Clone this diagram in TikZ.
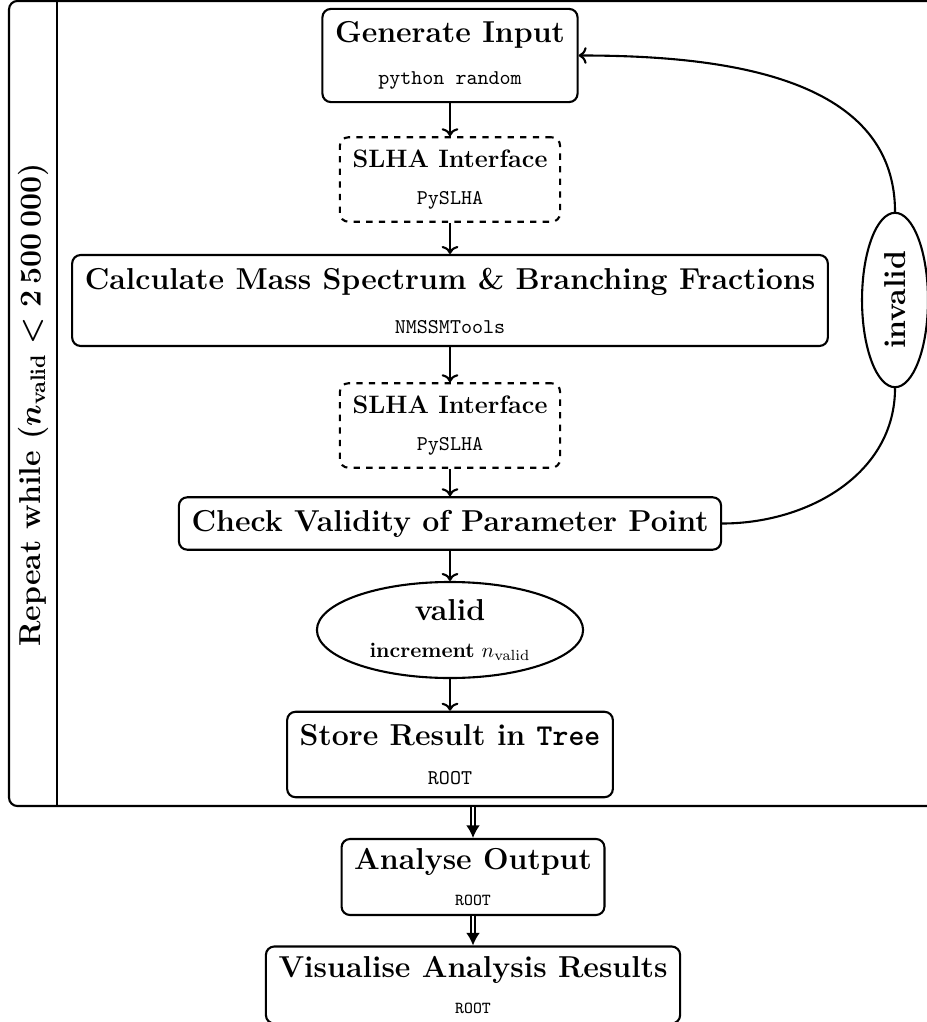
\documentclass[tikz,border=0pt]{standalone}
\usepackage{amsmath}
\usetikzlibrary{shapes, positioning, arrows.meta}
\tikzstyle{block}=[draw, line width=1pt, rounded corners, align=center, inner xsep=6pt, inner ysep=6pt]
\tikzstyle{blockd}=[block, dashed]
\tikzstyle{blocks}=[block, inner ysep=4.5pt]
\tikzstyle{decision}=[draw, line width=1pt, ellipse, align=center, inner sep=0pt]
\tikzstyle{flow}=[line width=1pt, ->]
\tikzstyle{flowd}=[line width=0.7pt, double, double distance=1.4pt, -{Latex[length=6pt, width=6.5pt]}]

\begin{document}
\begin{tikzpicture}[x=0.476pt, y=-0.476pt]
\useasboundingbox (0,0) rectangle (926,1022);
% loop frame
\node [draw, line width=1pt, rounded corners, minimum width=441.7pt, minimum height=383.2pt] (loop) at (473,403.5){};
\draw [line width=1pt] ([xshift=23.3pt]loop.north west) -- ([xshift=23.3pt]loop.south west);
\node [rotate=90] (rep) at (33,405){\Large\bfseries Repeat while {\boldmath$(n_\mathrm{valid} < 2\,500\,000)$}};
% chain inside the loop
\node [block] (gen) at (450,55.5){{\Large\bfseries Generate Input}\\[8pt]\texttt{python random}};
\node [blockd] (slha1) at (450,179.5){{\large\bfseries SLHA Interface}\\[5.5pt]\texttt{PySLHA}};
\node [block] (calc) at (450,300.5){{\Large\bfseries Calculate Mass Spectrum \& Branching Fractions}\\[9pt]\texttt{NMSSMTools}};
\node [blockd] (slha2) at (450,425.5){{\large\bfseries SLHA Interface}\\[5.5pt]\texttt{PySLHA}};
\node [block] (check) at (450,523.5){\Large\bfseries Check Validity of Parameter Point};
\node [decision, minimum width=126.7pt, minimum height=45.7pt] (valid) at (450,630){{\Large\bfseries valid}\\[5.5pt]\textbf{increment} $n_\mathrm{valid}$};
\node [block] (store) at (450,754.5){{\Large\bfseries Store Result in \texttt{Tree}}\\[6.5pt]\texttt{ROOT}};
\node [decision, rotate=90, minimum width=83pt, minimum height=31.4pt] (inv) at (895,300){\Large\bfseries invalid};
\draw [flow] (gen) -- (slha1);
\draw [flow] (slha1) -- (calc);
\draw [flow] (calc) -- (slha2);
\draw [flow] (slha2) -- (check);
\draw [flow] (check) -- (valid);
\draw [flow] (valid) -- (store);
\draw [line width=1pt] (check.east) to [out=0, in=-90] (inv.west);
\draw [flow] (inv.east) to [out=90, in=0] (gen.east);
% after the loop
\node [blocks] (ana) at (473,877){{\Large\bfseries Analyse Output}\\[5pt]{\footnotesize\ttfamily ROOT}};
\node [blocks] (vis) at (473,985){{\Large\bfseries Visualise Analysis Results}\\[5.5pt]{\footnotesize\ttfamily ROOT}};
\draw [flowd] (loop.south) -- (ana);
\draw [flowd] (ana) -- (vis);

\end{tikzpicture}
\end{document}
